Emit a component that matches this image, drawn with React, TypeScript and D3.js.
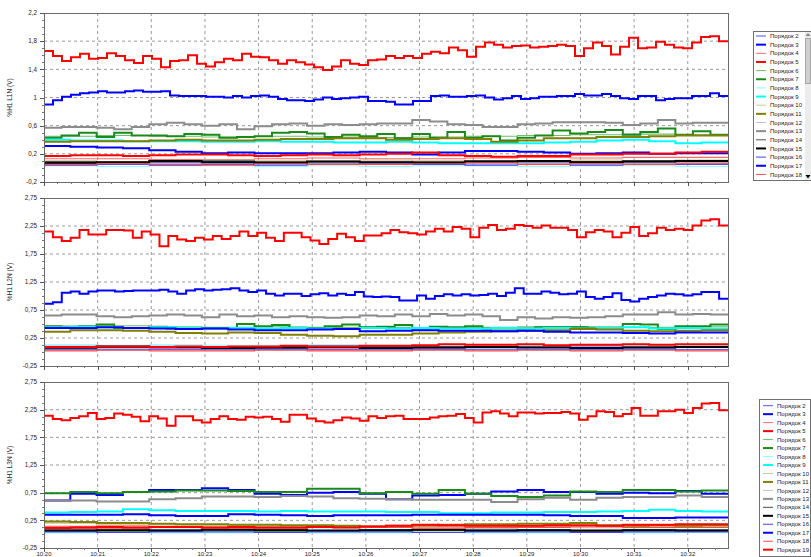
import { useEffect, useRef } from "react";
import * as d3 from "d3";

// harmonic orders shown in the legends
const orders = [2, 3, 4, 5, 6, 7, 8, 9, 10, 11, 12, 13, 14, 15, 16, 17, 18, 19];
const orderColors = ["#5050ff", "#0000ff", "#ff6a6a", "#ff0000", "#6cbf6c", "#1a8a1a", "#8cffff", "#00ffff", "#c8c890",
  "#808000", "#c4c4c4", "#8c8c8c", "#505050", "#000000", "#4040ff", "#0000ff", "#ff4a4a", "#ff0000"];
const thickOrders = [3, 5, 7, 9, 11, 13, 15, 17, 19];

const minuteLabels = ["10:20", "10:21", "10:22", "10:23", "10:24", "10:25", "10:26", "10:27", "10:28", "10:29", "10:30", "10:31", "10:32"];
const l1Ticks = [-0.2, 0.2, 0.6, 1, 1.4, 1.8, 2.2];
const l23Ticks = [-0.25, 0.25, 0.75, 1.25, 1.75, 2.25, 2.75];

// ---- L1N ----
const l1_h5 = [1.66,1.59,1.52,1.57,1.62,1.55,1.56,1.63,1.59,1.53,1.49,1.59,1.55,1.43,1.52,1.53,1.60,1.48,1.44,1.50,1.55,1.53,1.62,1.58,1.57,1.53,1.48,1.53,1.50,1.47,1.43,1.39,1.44,1.53,1.48,1.46,1.53,1.54,
  1.59,1.56,1.59,1.56,1.62,1.65,1.63,1.71,1.67,1.58,1.72,1.78,1.75,1.71,1.73,1.74,1.71,1.72,1.73,1.75,1.73,1.59,1.70,1.78,1.73,1.61,1.72,1.85,1.70,1.71,1.79,1.75,1.71,1.70,1.78,1.86,1.87,1.80];
const l1_h3 = [0.90,0.96,1.01,1.04,1.06,1.07,1.09,1.07,1.07,1.09,1.10,1.08,1.08,1.09,1.03,1.02,1.02,1.02,1.01,1.01,1.00,1.02,1.00,1.02,1.03,1.01,0.98,0.96,0.96,0.95,0.97,1.00,0.98,0.99,1.00,1.01,0.95,0.95,
  0.94,0.90,0.90,0.95,0.95,1.02,1.03,1.01,1.01,1.02,1.03,1.00,0.97,0.99,1.02,0.98,0.99,1.01,1.01,1.02,1.02,1.05,1.03,1.03,1.05,1.02,0.99,0.98,1.02,1.02,0.96,0.98,0.99,0.99,1.02,1.02,1.06,1.02];
const l1_h13 = [0.57,0.58,0.58,0.57,0.55,0.58,0.62,0.64,0.62,0.60,0.62,0.55,0.59,0.62,0.63,0.60,0.62,0.61,0.62,0.63,0.63,0.68,0.66,0.62,0.61,0.58,0.58,0.62,0.63,0.65,0.65,0.65,0.64,0.61,0.63,0.68,0.63,0.64,0.64];
const l1_h7 = [0.43,0.46,0.50,0.44,0.50,0.46,0.46,0.45,0.48,0.47,0.43,0.44,0.45,0.50,0.51,0.49,0.44,0.47,0.45,0.48,0.42,0.48,0.43,0.51,0.43,0.45,0.39,0.43,0.46,0.53,0.49,0.51,0.54,0.47,0.51,0.56,0.47,0.52,0.47];
const l1_h11 = [0.37,0.38,0.38,0.38,0.39,0.40,0.39,0.39,0.40,0.41,0.41,0.42,0.42,0.40,0.41,0.42,0.41,0.37,0.39,0.42,0.42,0.44,0.44,0.45,0.46,0.46];
const l1_h9 = [0.40,0.39,0.39,0.38,0.38,0.38,0.37,0.37,0.38,0.37,0.37,0.36,0.36,0.37,0.36,0.35,0.35,0.35,0.35,0.36,0.37,0.39,0.40,0.38,0.35,0.36];
const l1_h17 = [0.31,0.30,0.29,0.28,0.25,0.23,0.21,0.22,0.21,0.21,0.21,0.22,0.23,0.22,0.19,0.22,0.24,0.24,0.23,0.22,0.20,0.21,0.22,0.20,0.21,0.21];
const l1_h19 = [0.17,0.18,0.18,0.17,0.18,0.19,0.19,0.18,0.17,0.18,0.19,0.18,0.19,0.20,0.22,0.18,0.17,0.16,0.17,0.17,0.19,0.19,0.20,0.20,0.22,0.23];
const l1_h6 = [0.45,0.46,0.45,0.44,0.45,0.44,0.43,0.44,0.45,0.46,0.47,0.48,0.47];
const l1_h2 = [0.08,0.07,0.08,0.09,0.08,0.07,0.08,0.09,0.08,0.08,0.09,0.08,0.09];
const l1_h4 = [0.13,0.13,0.12,0.12,0.13,0.14,0.13,0.13,0.14,0.15,0.14,0.15,0.15];
const l1_h8 = [0.03,0.02,0.03,0.03,0.02,0.03,0.02,0.03,0.03,0.02,0.03,0.03,0.02];
const l1_h10 = [0.10,0.09,0.10,0.11,0.10,0.10,0.11,0.10,0.09,0.10,0.11,0.10,0.11];
const l1_h12 = [0.06,0.07,0.06,0.06,0.07,0.06,0.07,0.06,0.06,0.07,0.06,0.07,0.07];
const l1_h14 = [0.09,0.08,0.09,0.10,0.09,0.09,0.08,0.09,0.10,0.09,0.09,0.10,0.09];
const l1_h15 = [0.07,0.08,0.10,0.08,0.07,0.09,0.08,0.07,0.09,0.10,0.08,0.09,0.10];
const l1_h16 = [0.04,0.05,0.04,0.05,0.04,0.05,0.06,0.05,0.04,0.05,0.04,0.05,0.05];
const l1_h18 = [0.05,0.06,0.05,0.04,0.06,0.05,0.05,0.06,0.07,0.05,0.06,0.05,0.06];

// ---- L2N ----
const l2_h5 = [2.15,2.05,1.98,2.04,2.18,2.10,2.10,2.18,2.18,2.17,2.04,2.15,2.10,1.89,2.07,2.01,1.98,2.04,2.01,2.07,
  2.02,2.07,2.15,2.07,2.13,2.04,1.98,2.13,2.13,2.05,1.99,1.93,2.02,2.11,2.05,1.98,2.08,2.08,2.12,2.18,
  2.14,2.12,2.10,2.15,2.20,2.15,2.23,2.20,2.05,2.22,2.27,2.18,2.20,2.27,2.25,2.22,2.26,2.22,2.22,2.18,
  2.05,2.14,2.18,2.15,2.05,2.13,2.23,2.07,2.12,2.22,2.18,2.20,2.18,2.26,2.35,2.37,2.26];
const l2_h3 = [0.86,0.89,1.06,1.08,1.04,1.08,1.10,1.10,1.08,1.09,1.10,1.10,1.10,1.11,1.08,1.04,1.10,1.12,1.10,1.11,
  1.12,1.14,1.10,1.07,1.10,1.04,1.01,1.04,1.04,1.00,1.03,1.05,1.01,1.04,1.02,1.07,0.99,0.98,0.99,0.98,
  0.92,0.92,1.01,0.95,1.00,1.03,1.01,1.03,1.01,1.02,1.04,1.00,1.06,1.14,1.04,1.04,1.08,1.06,1.03,1.04,
  1.08,0.98,0.95,0.98,1.05,0.93,0.90,0.95,0.98,1.01,1.04,1.03,1.01,1.03,1.07,1.07,0.95];
const l2_h13 = [0.65,0.67,0.67,0.64,0.62,0.64,0.65,0.67,0.65,0.62,0.67,0.64,0.65,0.62,0.64,0.62,0.61,0.62,0.65,0.64,0.67,0.64,0.68,0.65,0.67,0.64,0.57,0.62,0.60,0.62,0.61,0.62,0.64,0.67,0.67,0.71,0.67,0.68,0.67];
const l2_h7 = [0.46,0.45,0.46,0.49,0.43,0.43,0.45,0.42,0.42,0.42,0.42,0.50,0.46,0.48,0.43,0.43,0.46,0.49,0.44,0.45,0.48,0.42,0.45,0.44,0.46,0.42,0.42,0.42,0.44,0.44,0.44,0.43,0.43,0.50,0.49,0.41,0.46,0.46,0.49];
const l2_h17 = [0.43,0.43,0.44,0.43,0.42,0.41,0.42,0.40,0.39,0.39,0.40,0.41,0.37,0.38,0.39,0.38,0.38,0.37,0.38,0.36,0.35,0.35,0.34,0.33,0.35,0.35];
const l2_h9 = [0.44,0.45,0.44,0.43,0.44,0.43,0.42,0.43,0.42,0.43,0.42,0.41,0.43,0.42,0.43,0.42,0.42,0.43,0.42,0.43,0.42,0.43,0.44,0.42,0.43,0.42];
const l2_h11 = [0.36,0.39,0.39,0.38,0.36,0.34,0.33,0.35,0.34,0.31,0.29,0.28,0.31,0.31,0.33,0.35,0.36,0.37,0.38,0.39,0.41,0.40,0.38,0.37,0.38,0.39];
const l2_h19 = [0.09,0.09,0.10,0.10,0.09,0.10,0.09,0.10,0.10,0.11,0.10,0.10,0.11,0.11,0.12,0.14,0.13,0.13,0.14,0.12,0.13,0.13,0.14,0.13,0.14,0.14];
const l2_h6 = [0.46,0.47,0.45,0.44,0.45,0.44,0.44,0.43,0.44,0.45,0.45,0.44,0.45];
const l2_h2 = [0.10,0.09,0.10,0.09,0.10,0.11,0.10,0.09,0.10,0.10,0.11,0.10,0.10];
const l2_h4 = [0.06,0.07,0.06,0.07,0.06,0.06,0.07,0.06,0.07,0.08,0.07,0.07,0.08];
const l2_h8 = [0.13,0.12,0.13,0.12,0.12,0.13,0.12,0.12,0.13,0.12,0.13,0.12,0.12];
const l2_h10 = [0.08,0.09,0.08,0.09,0.08,0.09,0.08,0.08,0.09,0.09,0.08,0.09,0.09];
const l2_h12 = [0.05,0.06,0.05,0.06,0.06,0.05,0.06,0.05,0.06,0.05,0.06,0.06,0.05];
const l2_h14 = [0.07,0.08,0.09,0.08,0.07,0.08,0.07,0.09,0.08,0.08,0.07,0.08,0.08];
const l2_h15 = [0.08,0.10,0.09,0.07,0.08,0.09,0.07,0.08,0.09,0.08,0.07,0.08,0.09];
const l2_h16 = [0.04,0.04,0.05,0.04,0.05,0.04,0.04,0.05,0.04,0.05,0.04,0.05,0.04];
const l2_h18 = [0.02,0.03,0.02,0.02,0.03,0.02,0.02,0.03,0.02,0.03,0.02,0.03,0.02];

// ---- L3N ----
const l3_h5 = [2.14,2.08,2.06,2.10,2.13,2.19,2.08,2.10,2.18,2.16,2.12,2.04,2.13,2.09,1.96,2.13,2.13,2.06,2.02,2.08,
  2.13,2.08,2.07,2.12,2.11,2.12,2.08,2.03,2.16,2.16,2.09,2.04,2.02,2.06,2.11,2.09,2.05,2.13,2.10,2.13,
  2.14,2.08,2.08,2.08,2.11,2.13,2.14,2.17,2.10,2.02,2.20,2.22,2.18,2.13,2.20,2.20,2.18,2.19,2.19,2.21,
  2.18,2.07,2.13,2.22,2.21,2.13,2.17,2.28,2.14,2.14,2.22,2.22,2.25,2.19,2.28,2.36,2.37,2.24];
const l3_h7 = [0.74,0.76,0.74,0.76,0.77,0.79,0.79,0.78,0.76,0.76,0.82,0.82,0.74,0.76,0.73,0.80,0.73,0.69,0.67,0.70,0.77,0.76,0.80,0.80,0.77,0.79];
const l3_h3 = [0.61,0.73,0.71,0.76,0.80,0.80,0.83,0.80,0.73,0.71,0.75,0.76,0.73,0.63,0.70,0.71,0.73,0.77,0.80,0.76,0.76,0.73,0.75,0.74,0.78,0.73];
const l3_h13 = [0.61,0.61,0.59,0.59,0.63,0.65,0.68,0.68,0.67,0.69,0.68,0.65,0.64,0.63,0.62,0.62,0.62,0.58,0.63,0.66,0.62,0.66,0.67,0.67,0.70,0.67];
const l3_h9 = [0.39,0.40,0.41,0.45,0.43,0.42,0.42,0.42,0.41,0.42,0.41,0.41,0.41,0.40,0.40,0.38,0.38,0.39,0.39,0.40,0.40,0.41,0.42,0.44,0.42,0.41];
const l3_h17 = [0.35,0.35,0.35,0.36,0.34,0.33,0.33,0.36,0.35,0.34,0.33,0.34,0.34,0.34,0.35,0.35,0.35,0.35,0.35,0.34,0.33,0.33,0.29,0.29,0.30,0.30];
const l3_h11 = [0.23,0.22,0.20,0.20,0.19,0.18,0.18,0.17,0.17,0.16,0.16,0.15,0.14,0.15,0.16,0.17,0.18,0.18,0.19,0.19,0.20,0.16,0.15,0.16,0.15,0.16];
const l3_h19 = [0.11,0.12,0.13,0.12,0.13,0.13,0.12,0.13,0.12,0.12,0.13,0.12,0.14,0.15,0.17,0.16,0.15,0.15,0.15,0.16,0.16,0.15,0.17,0.17,0.18,0.18];
const l3_h2 = [0.06,0.07,0.06,0.07,0.06,0.07,0.06,0.07,0.06,0.07,0.07,0.06,0.07];
const l3_h4 = [0.14,0.15,0.14,0.13,0.14,0.14,0.13,0.14,0.15,0.14,0.15,0.15,0.16];
const l3_h6 = [0.05,0.05,0.06,0.05,0.05,0.06,0.05,0.06,0.05,0.05,0.06,0.05,0.06];
const l3_h8 = [0.02,0.03,0.02,0.02,0.03,0.02,0.02,0.03,0.02,0.02,0.03,0.02,0.03];
const l3_h10 = [0.20,0.18,0.17,0.15,0.14,0.13,0.12,0.13,0.14,0.15,0.14,0.13,0.14];
const l3_h12 = [0.09,0.08,0.09,0.09,0.08,0.09,0.08,0.09,0.09,0.08,0.09,0.09,0.08];
const l3_h14 = [0.08,0.07,0.08,0.09,0.08,0.07,0.08,0.07,0.09,0.08,0.07,0.08,0.08];
const l3_h15 = [0.06,0.07,0.06,0.08,0.07,0.06,0.07,0.08,0.06,0.07,0.06,0.07,0.06];
const l3_h16 = [0.04,0.03,0.04,0.04,0.03,0.04,0.04,0.03,0.04,0.04,0.03,0.04,0.04];
const l3_h18 = [0.11,0.11,0.12,0.11,0.11,0.12,0.12,0.11,0.12,0.12,0.13,0.12,0.12];

const panels = [
  { title: "%H1 L1N (V)", top: 13, bottom: 182, ticks: l1Ticks, labels: false,
    series: [l1_h2, l1_h3, l1_h4, l1_h5, l1_h6, l1_h7, l1_h8, l1_h9, l1_h10, l1_h11, l1_h12, l1_h13, l1_h14, l1_h15, l1_h16, l1_h17, l1_h18, l1_h19] },
  { title: "%H1 L2N (V)", top: 198, bottom: 366, ticks: l23Ticks, labels: false,
    series: [l2_h2, l2_h3, l2_h4, l2_h5, l2_h6, l2_h7, l2_h8, l2_h9, l2_h10, l2_h11, l2_h12, l2_h13, l2_h14, l2_h15, l2_h16, l2_h17, l2_h18, l2_h19] },
  { title: "%H1 L3N (V)", top: 382, bottom: 548, ticks: l23Ticks, labels: true,
    series: [l3_h2, l3_h3, l3_h4, l3_h5, l3_h6, l3_h7, l3_h8, l3_h9, l3_h10, l3_h11, l3_h12, l3_h13, l3_h14, l3_h15, l3_h16, l3_h17, l3_h18, l3_h19] },
];

const START = new Date(2024, 0, 1, 10, 20, 0);
const END = new Date(2024, 0, 1, 10, 32, 45);
const FONT = "'Liberation Sans', Arial, sans-serif";
const fmt = (v: number) => String(v).replace(".", ",");

function App() {
  const ref = useRef<SVGSVGElement>(null);

  useEffect(() => {
    const svg = d3.select(ref.current);
    svg.selectAll("*").remove();
    svg.append("rect").attr("width", 811).attr("height", 557).attr("fill", "#fff");

    const left = 44, right = 728;
    const x = d3.scaleTime().domain([START, END]).range([left, right]);
    const minutes = minuteLabels.map((_, i) => d3.timeMinute.offset(START, i));
    const quarterTicks = d3.timeSecond.every(15)!.range(START, END);
    const span = +END - +START;

    panels.forEach((p, pi) => {
      const y0 = p.ticks[0], y1 = p.ticks[p.ticks.length - 1];
      const y = d3.scaleLinear().domain([y0, y1]).range([p.bottom, p.top]);
      const g = svg.append("g");

      g.append("clipPath").attr("id", `clip${pi}`)
        .append("rect").attr("x", left).attr("y", p.top).attr("width", right - left).attr("height", p.bottom - p.top);

      // grid
      g.append("g").selectAll("line").data(p.ticks.slice(1, -1)).join("line")
        .attr("x1", left).attr("x2", right).attr("y1", d => y(d)).attr("y2", d => y(d))
        .attr("stroke", "#9a9a9a").attr("stroke-dasharray", "3,3");
      g.append("g").selectAll("line").data(minutes.slice(1)).join("line")
        .attr("x1", d => x(d)).attr("x2", d => x(d)).attr("y1", p.top).attr("y2", p.bottom)
        .attr("stroke", "#9a9a9a").attr("stroke-dasharray", "3,3");

      // series (drawn in order so higher orders sit on top)
      const line = d3.line<[Date, number]>().x(d => x(d[0])).y(d => y(d[1])).curve(d3.curveStepAfter);
      const sg = g.append("g").attr("clip-path", `url(#clip${pi})`);
      p.series.forEach((vals, si) => {
        const order = orders[si];
        const pts: [Date, number][] = vals.map((v, i) => [new Date(+START + (span * i) / vals.length), v]);
        pts.push([END, vals[vals.length - 1]]);
        const thick = thickOrders.includes(order);
        sg.append("path").attr("d", line(pts))
          .attr("fill", "none").attr("stroke", orderColors[si])
          .attr("stroke-width", thick ? 2 : 1.1).attr("stroke-linejoin", "miter");
      });

      // frame
      g.append("rect").attr("x", left + 0.5).attr("y", p.top + 0.5)
        .attr("width", right - left).attr("height", p.bottom - p.top)
        .attr("fill", "none").attr("stroke", "#6a6a6a");

      // y axis ticks
      const minorY = d3.range(0, 25).map(i => y0 + ((y1 - y0) * i) / 24);
      g.append("g").selectAll("line").data(minorY).join("line")
        .attr("x1", left - 2).attr("x2", left).attr("y1", d => Math.round(y(d)) + 0.5).attr("y2", d => Math.round(y(d)) + 0.5)
        .attr("stroke", "#777");
      g.append("g").selectAll("line").data(p.ticks).join("line")
        .attr("x1", left - 4).attr("x2", left).attr("y1", d => Math.round(y(d)) + 0.5).attr("y2", d => Math.round(y(d)) + 0.5)
        .attr("stroke", "#555");
      g.append("g").selectAll("text").data(p.ticks).join("text")
        .attr("x", 37).attr("y", d => y(d)).attr("dy", "0.35em")
        .attr("text-anchor", "end").attr("font-family", FONT).attr("font-size", 6.3).attr("fill", "#222")
        .text(d => fmt(d));

      g.append("text")
        .attr("transform", `translate(12,${(p.top + p.bottom) / 2}) rotate(-90)`)
        .attr("text-anchor", "middle").attr("font-family", FONT).attr("font-size", 6.5).attr("fill", "#222")
        .text(p.title);

      // x axis ticks
      g.append("g").selectAll("line").data(quarterTicks).join("line")
        .attr("x1", d => Math.round(x(d)) + 0.5).attr("x2", d => Math.round(x(d)) + 0.5)
        .attr("y1", p.bottom).attr("y2", p.bottom + 2).attr("stroke", "#777");
      g.append("g").selectAll("line").data(minutes).join("line")
        .attr("x1", d => Math.round(x(d)) + 0.5).attr("x2", d => Math.round(x(d)) + 0.5)
        .attr("y1", p.bottom).attr("y2", p.bottom + 4).attr("stroke", "#555");

      if (p.labels) {
        g.append("g").selectAll("text").data(minutes).join("text")
          .attr("x", d => x(d)).attr("y", 556)
          .attr("text-anchor", "middle").attr("font-family", FONT).attr("font-size", 6).attr("fill", "#222")
          .text((_, i) => minuteLabels[i]);
      }
    });

    // legend helper
    const drawLegend = (bx: number, by: number, bw: number, bh: number, first: number, gap: number, lx: number, count: number) => {
      const lg = svg.append("g");
      lg.append("rect").attr("x", bx + 0.5).attr("y", by + 0.5).attr("width", bw).attr("height", bh)
        .attr("fill", "#fff").attr("stroke", "#707070");
      orders.slice(0, count).forEach((o, i) => {
        const yy = first + i * gap;
        lg.append("line").attr("x1", lx).attr("x2", lx + 10).attr("y1", yy).attr("y2", yy)
          .attr("stroke", orderColors[i]).attr("stroke-width", thickOrders.includes(o) ? 2 : 1);
        lg.append("text").attr("x", lx + 14).attr("y", yy).attr("dy", "0.35em")
          .attr("font-family", FONT).attr("font-size", 6).attr("fill", "#222")
          .text(`Порядок ${o}`);
      });
      return lg;
    };

    const lg1 = drawLegend(753, 31, 57, 149, 36, 8.65, 756, 17);
    // scrollbar
    lg1.append("rect").attr("x", 805).attr("y", 32).attr("width", 6).attr("height", 148).attr("fill", "#ececec");
    lg1.append("rect").attr("x", 805.5).attr("y", 38.5).attr("width", 5).attr("height", 45).attr("fill", "#cfcfcf").attr("stroke", "#a8a8a8");
    lg1.append("path").attr("d", "M805.5,36 L808,33 L810.5,36 Z").attr("fill", "#888");
    lg1.append("path").attr("d", "M805.5,175 L808,178.5 L810.5,175 Z").attr("fill", "#000");

    drawLegend(759, 399, 51, 157, 405.7, 8.47, 763, 18);
  }, []);

  return (
    <svg ref={ref} width={811} height={557}
      style={{ position: "absolute", left: 0, top: 0, display: "block" }} />
  );
}

export default App;
